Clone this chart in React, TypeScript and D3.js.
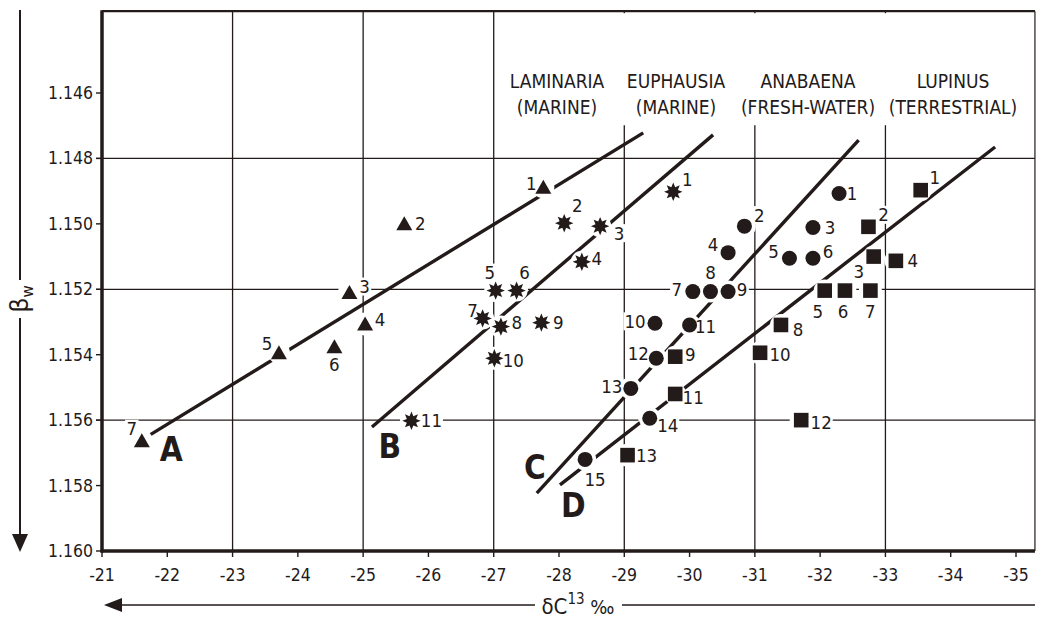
import React from 'react';
import * as d3 from 'd3';

const W = 1037;
const H = 618;

// Axis ticks and grid
const xTickValues = d3.range(-21, -36, -1);
const yTickValues = [1.146, 1.148, 1.15, 1.152, 1.154, 1.156, 1.158, 1.16];
const xGridValues = [-23, -25, -27, -29, -31, -33];
const yGridValues = [1.148, 1.152, 1.156];

// Laminaria (marine) – triangles
const laminaria = [
  { n: 1, x: -27.76, y: 1.14888 },
  { n: 2, x: -25.63, y: 1.15 },
  { n: 3, x: -24.79, y: 1.1521 },
  { n: 4, x: -25.03, y: 1.15306 },
  { n: 5, x: -23.71, y: 1.15394 },
  { n: 6, x: -24.56, y: 1.15376 },
  { n: 7, x: -21.61, y: 1.15663 },
];
// Euphausia (marine) – stars
const euphausia = [
  { n: 1, x: -29.75, y: 1.14902 },
  { n: 2, x: -28.08, y: 1.14998 },
  { n: 3, x: -28.63, y: 1.15007 },
  { n: 4, x: -28.35, y: 1.15116 },
  { n: 5, x: -27.03, y: 1.15204 },
  { n: 6, x: -27.35, y: 1.15204 },
  { n: 7, x: -26.83, y: 1.15289 },
  { n: 8, x: -27.11, y: 1.15314 },
  { n: 9, x: -27.73, y: 1.15302 },
  { n: 10, x: -27.01, y: 1.15411 },
  { n: 11, x: -25.74, y: 1.15602 },
];
// Anabaena (fresh-water) – circles
const anabaena = [
  { n: 1, x: -32.29, y: 1.14907 },
  { n: 2, x: -30.84, y: 1.15007 },
  { n: 3, x: -31.89, y: 1.15011 },
  { n: 4, x: -30.59, y: 1.15088 },
  { n: 5, x: -31.53, y: 1.15105 },
  { n: 6, x: -31.89, y: 1.15105 },
  { n: 7, x: -30.05, y: 1.15207 },
  { n: 8, x: -30.32, y: 1.15207 },
  { n: 9, x: -30.59, y: 1.15207 },
  { n: 10, x: -29.47, y: 1.15304 },
  { n: 11, x: -30.0, y: 1.15309 },
  { n: 12, x: -29.49, y: 1.15411 },
  { n: 13, x: -29.1, y: 1.15503 },
  { n: 14, x: -29.39, y: 1.15594 },
  { n: 15, x: -28.4, y: 1.1572 },
];
// Lupinus (terrestrial) – squares
const lupinus = [
  { n: 1, x: -33.54, y: 1.14897 },
  { n: 2, x: -32.74, y: 1.15009 },
  { n: 3, x: -32.82, y: 1.151 },
  { n: 4, x: -33.16, y: 1.15113 },
  { n: 5, x: -32.07, y: 1.15204 },
  { n: 6, x: -32.38, y: 1.15204 },
  { n: 7, x: -32.77, y: 1.15204 },
  { n: 8, x: -31.4, y: 1.15309 },
  { n: 9, x: -29.78, y: 1.15406 },
  { n: 10, x: -31.08, y: 1.15394 },
  { n: 11, x: -29.78, y: 1.1552 },
  { n: 12, x: -31.71, y: 1.156 },
  { n: 13, x: -29.05, y: 1.15707 },
];

// Fitted lines (end points)
const lineA = [[-21.735, 1.15645], [-29.29, 1.14722]];
const lineB = [[-25.135, 1.15621], [-30.36, 1.14728]];
const lineC = [[-27.66, 1.15823], [-32.59, 1.14744]];
const lineD = [[-28.015, 1.15798], [-34.68, 1.14765]];

// Line letters
const lineLetters = [
  { t: 'A', x: -22.06, y: 1.15691 },
  { t: 'B', x: -25.41, y: 1.15682 },
  { t: 'C', x: -27.63, y: 1.15746 },
  { t: 'D', x: -28.22, y: 1.15862 },
];

const legendTitles = [
  ['LAMINARIA', '(MARINE)'],
  ['EUPHAUSIA', '(MARINE)'],
  ['ANABAENA', '(FRESH-WATER)'],
  ['LUPINUS', '(TERRESTRIAL)'],
];

// Number placement around each marker (dx, dy from marker centre)
const laminariaLabelAt = [[-12, -4], [16, 0], [15, -6], [15, -4], [-12, -9], [0, 18], [-10, -12]];
const euphausiaLabelAt = [[14, -12], [13, -18], [19, 7], [15, -3], [-6, -18], [8, -18], [-10, -8], [16, -4], [17, 0], [19, 2], [20, 0]];
const anabaenaLabelAt = [[13, 0], [15, -11], [17, 0], [-15, -8], [-16, -7], [15, -7], [-16, -2], [0, -19], [14, -2], [-20, -2], [16, 2], [-18, -5], [-19, -2], [18, 7], [10, 20]];
const lupinusLabelAt = [[14, -13], [15, -12], [-15, 15], [17, 0], [-7, 21], [-2, 21], [0, 21], [17, 5], [15, -2], [20, 2], [18, 4], [20, 2], [19, 0]];

const INK = '#231a1a';
const FONT = '"DejaVu Sans Condensed", "Liberation Sans Narrow", "DejaVu Sans", sans-serif';

const x = d3.scaleLinear().domain([-21, -35]).range([102, 1016]);
const y = d3.scaleLinear().domain([1.146, 1.16]).range([93, 551]);
const FRAME = { l: x(-21), r: x(-35.29), t: y(1.1435), b: y(1.16) };

function starPath(ro: number, ri: number, n = 8) {
  const pts: [number, number][] = [];
  for (let i = 0; i < n * 2; i++) {
    const a = (Math.PI * i) / n - Math.PI / 2;
    const r = i % 2 === 0 ? ro : ri;
    pts.push([r * Math.cos(a), r * Math.sin(a)]);
  }
  return d3.line()(pts) + 'Z';
}
const STAR = starPath(9.2, 5);

type Pt = { n: number; x: number; y: number };
const series = [
  { key: 'tri', pts: laminaria as Pt[], at: laminariaLabelAt },
  { key: 'star', pts: euphausia as Pt[], at: euphausiaLabelAt },
  { key: 'circ', pts: anabaena as Pt[], at: anabaenaLabelAt },
  { key: 'sq', pts: lupinus as Pt[], at: lupinusLabelAt },
];
const fits = [lineA, lineB, lineC, lineD];

function Marker({ kind, cx, cy }: { kind: string; cx: number; cy: number }) {
  if (kind === 'tri') {
    const p = d3.line()([[cx - 8, cy + 6.5], [cx + 8, cy + 6.5], [cx, cy - 7.5]]) + 'Z';
    return <path d={p} fill={INK} />;
  }
  if (kind === 'star') return <path d={STAR} transform={`translate(${cx},${cy})`} fill={INK} />;
  if (kind === 'circ') return <circle cx={cx} cy={cy} r={7.5} fill={INK} />;
  return <rect x={cx - 7.3} y={cy - 7.3} width={14.6} height={14.6} fill={INK} />;
}

export default function App() {
  const allPts = series.flatMap((s) => s.pts.map((p) => ({ cx: x(p.x), cy: y(p.y) })));
  const labels = series.flatMap((s) =>
    s.pts.map((p, i) => ({
      t: String(p.n),
      lx: x(p.x) + s.at[i][0],
      ly: y(p.y) + s.at[i][1],
    }))
  );
  const legendX = [557, 676, 808, 953];

  return (
    <svg width={W} height={H} style={{ position: 'absolute', left: 0, top: 0, background: '#fff' }} fontFamily={FONT}>
      <defs>
        <mask id="gridMask" maskUnits="userSpaceOnUse" x={0} y={0} width={W} height={H}>
          <rect x={0} y={0} width={W} height={H} fill="#fff" />
          <rect x={505} y={FRAME.t + 2} width={FRAME.r - 505} height={112} fill="#000" />
          {allPts.map((p, i) => (
            <circle key={i} cx={p.cx} cy={p.cy} r={11.5} fill="#000" />
          ))}
          {labels.map((l, i) => (
            <rect key={i} x={l.lx - (l.t.length * 9.5 + 4) / 2} y={l.ly - 9} width={l.t.length * 9.5 + 4} height={18} fill="#000" />
          ))}
        </mask>
        <mask id="fitMask" maskUnits="userSpaceOnUse" x={0} y={0} width={W} height={H}>
          <rect x={0} y={0} width={W} height={H} fill="#fff" />
          {allPts.map((p, i) => (
            <circle key={i} cx={p.cx} cy={p.cy} r={11} fill="#000" />
          ))}
        </mask>
      </defs>

      {/* grid lines */}
      <g mask="url(#gridMask)" stroke={INK} strokeWidth={1.3}>
        {xGridValues.map((v) => (
          <line key={v} x1={x(v)} x2={x(v)} y1={FRAME.t} y2={FRAME.b} />
        ))}
        {yGridValues.map((v) => (
          <line key={v} x1={FRAME.l - 6} x2={FRAME.r} y1={y(v)} y2={y(v)} />
        ))}
      </g>

      {/* ticks */}
      <g stroke={INK} strokeWidth={1.4}>
        {yTickValues.map((v) => (
          <line key={v} x1={FRAME.l - 6} x2={FRAME.l} y1={y(v)} y2={y(v)} />
        ))}
        {xTickValues.map((v) => (
          <line key={v} x1={x(v)} x2={x(v)} y1={FRAME.b} y2={FRAME.b + 6} />
        ))}
      </g>

      {/* frame */}
      <g stroke={INK} fill="none">
        <line x1={FRAME.l} x2={FRAME.r} y1={FRAME.t} y2={FRAME.t} strokeWidth={2.2} />
        <line x1={FRAME.r} x2={FRAME.r} y1={FRAME.t} y2={FRAME.b} strokeWidth={1.2} />
        <line x1={FRAME.l} x2={FRAME.l} y1={FRAME.t - 1} y2={FRAME.b + 1.5} strokeWidth={3.5} />
        <line x1={FRAME.l - 1.5} x2={FRAME.r} y1={FRAME.b} y2={FRAME.b} strokeWidth={3.5} />
      </g>

      {/* tick labels */}
      <g fill={INK} fontSize={17.5} style={{ fontStretch: 'condensed' }}>
        {yTickValues.map((v) => (
          <text key={v} x={FRAME.l - 9} y={y(v)} textAnchor="end" dominantBaseline="central">
            {d3.format('.3f')(v)}
          </text>
        ))}
        {xTickValues.map((v) => (
          <text key={v} x={x(v)} y={FRAME.b + 24} textAnchor="middle" dominantBaseline="central">
            {v}
          </text>
        ))}
      </g>

      {/* fitted lines */}
      <g mask="url(#fitMask)" stroke={INK} strokeWidth={3.4} strokeLinecap="butt">
        {fits.map((f, i) => (
          <line key={i} x1={x(f[0][0])} y1={y(f[0][1])} x2={x(f[1][0])} y2={y(f[1][1])} />
        ))}
      </g>

      {/* markers */}
      {series.map((s) =>
        s.pts.map((p) => <Marker key={s.key + p.n} kind={s.key} cx={x(p.x)} cy={y(p.y)} />)
      )}

      {/* point numbers */}
      <g fill={INK} fontSize={18.5} style={{ fontStretch: 'condensed' }}>
        {labels.map((l, i) => (
          <text key={i} x={l.lx} y={l.ly} textAnchor="middle" dominantBaseline="central">
            {l.t}
          </text>
        ))}
      </g>

      {/* line letters */}
      <g fill={INK} fontSize={33} fontWeight="bold" style={{ fontStretch: 'condensed' }}>
        {lineLetters.map((d) => (
          <text key={d.t} x={x(d.x)} y={y(d.y)} textAnchor="middle" dominantBaseline="central">
            {d.t}
          </text>
        ))}
      </g>

      {/* legend titles */}
      <g fill={INK} fontSize={19} style={{ fontStretch: 'condensed' }}>
        {legendTitles.map((t, i) => (
          <g key={i}>
            <text x={legendX[i]} y={81} textAnchor="middle" dominantBaseline="central">
              {t[0]}
            </text>
            <text x={legendX[i]} y={107} textAnchor="middle" dominantBaseline="central">
              {t[1]}
            </text>
          </g>
        ))}
      </g>

      {/* y axis title with downward arrow */}
      <g stroke={INK} strokeWidth={2}>
        <line x1={20} x2={20} y1={10} y2={280} />
        <line x1={20} x2={20} y1={318} y2={537} />
      </g>
      <path d="M12,534 L28,534 L20,552 Z" fill={INK} />
      <text transform="translate(28,299) rotate(-90)" fill={INK} fontSize={24} textAnchor="middle" fontFamily='"DejaVu Sans", sans-serif'>
        β<tspan fontSize={15} dy={5}>w</tspan>
      </text>

      {/* x axis title with leftward arrow */}
      <g stroke={INK} strokeWidth={1.6}>
        <line x1={118} x2={535} y1={605} y2={605} />
        <line x1={622} x2={1035} y1={605} y2={605} />
      </g>
      <path d="M104,605 L122,598 L122,612 Z" fill={INK} />
      <text x={578} y={614} fill={INK} fontSize={22} textAnchor="middle" style={{ fontStretch: 'condensed' }}>
        δC<tspan fontSize={15} dy={-10}>13</tspan>
        <tspan fontSize={20} dy={10}> ‰</tspan>
      </text>
    </svg>
  );
}
